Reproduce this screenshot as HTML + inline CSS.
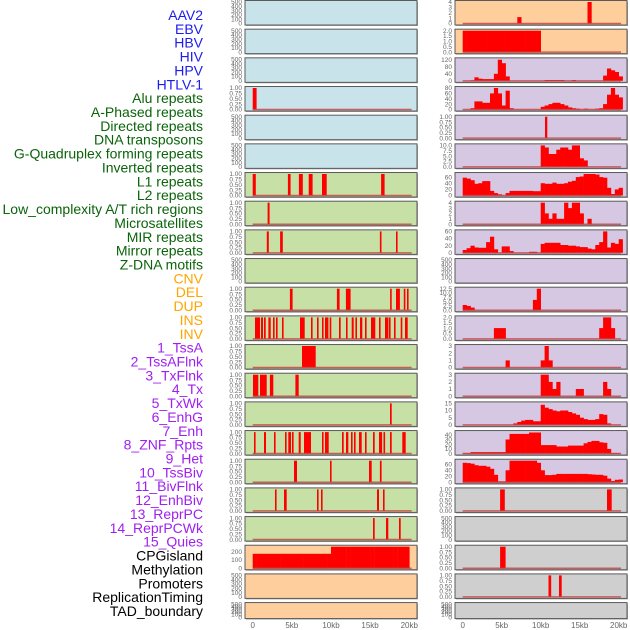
<!DOCTYPE html>
<html><head><meta charset="utf-8">
<style>
html,body{margin:0;padding:0;background:#fff;}
svg{display:block;}
text{font-family:"Liberation Sans",sans-serif;}
</style></head>
<body>
<svg id="chart" width="630" height="630" viewBox="0 0 630 630" xmlns="http://www.w3.org/2000/svg"></svg>
<script>
// ---- labels ----
const trackLabels = ["AAV2","EBV","HBV","HIV","HPV","HTLV-1","Alu repeats","A-Phased repeats","Directed repeats","DNA transposons","G-Quadruplex forming repeats","Inverted repeats","L1 repeats","L2 repeats","Low_complexity A/T rich regions","Microsatellites","MIR repeats","Mirror repeats","Z-DNA motifs","CNV","DEL","DUP","INS","INV","1_TssA","2_TssAFlnk","3_TxFlnk","4_Tx","5_TxWk","6_EnhG","7_Enh","8_ZNF_Rpts","9_Het","10_TssBiv","11_BivFlnk","12_EnhBiv","13_ReprPC","14_ReprPCWk","15_Quies","CPGisland","Methylation","Promoters","ReplicationTiming","TAD_boundary"];
const labelGroups = [6,13,5,15,5];
const groupColors = ["#1c1cf0","#0a640a","#ffa500","#a020f0","#000000"];
const xTickLabels = ["0","5kb","10kb","15kb","20kb"];
const xTickValues = [0,5,10,15,20];

// ---- left column data (kb intervals, 0..1 bars) ----
const L3 = [[0,0.5]];
const L6 = [[0,0.4],[4.5,4.85],[5.9,6.4],[7.15,7.65],[8.85,9.45],[16.4,16.85]];
const L7 = [[1.9,2.15]];
const L8 = [[1.8,2.05],[3.5,3.85],[16.25,16.45],[18.3,18.5]];
const L10 = [[4.75,5.1],[10.75,11.1],[11.9,12.5],[17.55,17.75],[18.3,18.8],[19.3,19.5],[19.7,19.9]];
const L11 = [[0.29,0.93],[1.06,1.32],[1.44,1.66],[2.0,2.29],[2.59,2.8],[2.98,3.19],[3.74,3.95],[6.04,6.64],[7.45,7.66],[8.21,8.42],[8.85,9.06],[9.23,9.66],[9.83,10.04],[11.02,11.24],[11.92,12.13],[12.64,12.9],[13.11,13.32],[13.7,14.0],[14.34,14.55],[15.11,15.66],[16.13,16.34],[16.9,17.32],[17.4,17.62],[18.05,18.26],[18.9,19.11],[19.45,19.79]];
const L12 = [[6.3,8.05]];
const L13 = [[0.04,0.72],[0.93,1.78],[2.2,2.63],[5.45,5.87]];
const L14 = [[17.53,17.75]];
const L15 = [[0.17,0.38],[1.44,1.7],[2.72,2.93],[4.13,4.34],[4.55,4.89],[5.02,5.23],[5.87,6.13],[6.55,7.45],[8.85,9.06],[9.23,9.7],[11.4,11.62],[11.92,12.21],[12.55,12.76],[12.94,13.15],[13.57,13.92],[14.34,14.55],[15.36,15.58],[16.13,16.52],[16.7,16.9],[17.53,17.75],[19.11,19.54]];
const L16 = [[5.28,5.66],[9.87,10.08],[14.85,15.19],[16.25,16.47]];
const L17 = [[2.85,3.06],[4.0,4.34],[8.21,8.42],[8.72,8.93],[15.88,16.13],[16.64,16.85]];
const L18 = [[15.36,15.58],[17.02,17.32],[18.68,18.9]];
// area (values per 0.5kb bin)
const L19 = [175,175,175,175,175,175,175,175,175,175,175,175,175,175,175,175,175,175,175,175,260,260,260,260,260,260,260,260,260,260,260,260,260,260,260,260,260,260,260,260,0];

// ---- right column data ----
const R0 = [0,0,0,0,0,0,0,0,0,0,0,0,0,0,1.2,0,0,0,0,0,0,0,0,0,0,0,0,0,0,0,0,0,4,0,0,0,0,0,0,0,0];
const R1 = [2,2,2,2,2,2,2,2,2,2,2,2,2,2,2,2,2,2,2,2,0,0,0,0,0,0,0,0,0,0,0,0,0,0,0,0,0,0,0,0,0];
const R2 = [0,0,3,20,12,10,10,10,40,120,100,25,0,0,0,0,0,0,0,0,0,5,5,5,5,5,0,0,5,0,0,0,0,0,0,0,30,70,60,50,25];
const R3 = [0,0,5,30,30,25,25,60,80,60,15,70,5,0,0,0,0,0,0,0,10,15,20,25,25,20,15,8,5,3,0,3,0,0,3,5,20,55,80,55,45];
const R4 = [[10.55,10.85]];
const R5 = [0,0,0,0,0,0,0,0,0,0,0,0,0,0,0,0,0,0,0,0,10,9,6,6,8,9,9,8,10,10,4,3,0,0,0,0,0,0,0,0,0];
const R6 = [58,55,50,38,40,47,47,15,8,4,0,8,15,15,15,15,15,15,14,14,40,38,38,42,38,38,40,45,48,60,62,70,70,70,68,60,58,25,5,20,25];
const R7 = [0,0,0,0,0,0,0,0,0,0,0,0,0,0,0,0,0,0,0,0,4,2,1,2,1,1,4,3,4,4,2,0,1,0,0,0,0,0,0,0,0];
const R8 = [8,13,20,15,14,14,30,45,10,0,18,18,5,0,0,0,0,3,3,0,25,28,28,28,28,22,22,20,20,18,16,16,12,10,22,30,60,15,28,25,38];
const R10 = [3,2.5,1.5,0,0,0,0,0,0,0,0,0,0,0,0,0,0,0,6,12.5,0,0,0,0,0,0,0,0,0,0,0,0,0,0,0,0,0,0,0,0,0];
const R11 = [0,0,0,0,0,0,0,0,1,1,1,0,0,0,0,0,0,0,0,0,0,0,0,0,0,0,0,0,0,0,0,0,0,0,0,1,2,2,1,0,0];
const R12 = [0,0,0,0,0,0,0,0,0,0,0,1,0,0,0,0,0,0,0,0,1,3,1,0,0,0,0,0,0,0,0,0,0,0,0,0,0,0,0,0,0];
const R13 = [0,0,0,0,0,0,0,0,0,0,0,0,0,0,0,0,0,0,0,0,3,3,2,1,2,0,0,0,0,1,1,0,0,0,0,0,2,1,0,0,0];
const R14 = [0,0,0,0,0,0,0,0,0,0,0,0,0,1,2,3,3.5,3.5,2.5,2.5,14,12,11,10,9.5,10,10,9,8,7,5,4,3.5,3.5,4,7.5,7,1,0,0,0];
const R15 = [1,1,3,3,3,3,3,3,3,3,3,30,42,42,42,42,42,45,45,45,18,18,18,18,15,15,15,17,17,17,17,22,25,27,27,24,23,10,1,1,0];
const R16 = [65,64,62,57,55,55,52,45,25,3,3,40,72,72,72,72,72,72,72,65,40,24,24,25,28,28,28,28,28,28,28,28,27,26,25,25,22,12,4,8,9];
const R17 = [[4.8,5.4],[18.5,19.1]];
const R19 = [[4.8,5.5]];
const R20 = [[11.0,11.35],[12.35,12.7]];

// ---- tick sets ----
const T_EMPTY = [0,100,200,300,400,500];
const T_UNIT = ["0.00","0.25","0.50","0.75","1.00"];

const BLUE="#c8e3ea", GREEN="#c6e0a5", PEACH="#fecf9d", LAV="#d6c7e2", GRAY="#cfcfcf";
const leftPanels = [
 {bg:BLUE,type:"empty"},{bg:BLUE,type:"empty"},{bg:BLUE,type:"empty"},
 {bg:BLUE,type:"bars",d:L3},{bg:BLUE,type:"empty"},{bg:BLUE,type:"empty"},
 {bg:GREEN,type:"bars",d:L6},{bg:GREEN,type:"bars",d:L7},{bg:GREEN,type:"bars",d:L8},
 {bg:GREEN,type:"empty"},{bg:GREEN,type:"bars",d:L10},{bg:GREEN,type:"bars",d:L11},
 {bg:GREEN,type:"bars",d:L12},{bg:GREEN,type:"bars",d:L13},{bg:GREEN,type:"bars",d:L14},
 {bg:GREEN,type:"bars",d:L15},{bg:GREEN,type:"bars",d:L16},{bg:GREEN,type:"bars",d:L17},
 {bg:GREEN,type:"bars",d:L18},{bg:PEACH,type:"area",d:L19,max:260,ticks:["0","100","200"],tv:[0,100,200]},
 {bg:PEACH,type:"empty"},{bg:PEACH,type:"empty"}
];
const rightPanels = [
 {bg:PEACH,type:"area",d:R0,max:4,ticks:["0","1","2","3","4"],tv:[0,1,2,3,4]},
 {bg:PEACH,type:"area",d:R1,max:2,ticks:["0.0","0.5","1.0","1.5","2.0"],tv:[0,0.5,1,1.5,2]},
 {bg:LAV,type:"area",d:R2,max:122,ticks:["0","40","80","120"],tv:[0,40,80,120]},
 {bg:LAV,type:"area",d:R3,max:80,ticks:["0","20","40","60","80"],tv:[0,20,40,60,80]},
 {bg:LAV,type:"bars",d:R4},
 {bg:LAV,type:"area",d:R5,max:10,ticks:["0.0","2.5","5.0","7.5","10.0"],tv:[0,2.5,5,7.5,10]},
 {bg:LAV,type:"area",d:R6,max:70,ticks:["0","20","40","60"],tv:[0,20,40,60]},
 {bg:LAV,type:"area",d:R7,max:4,ticks:["0","1","2","3","4"],tv:[0,1,2,3,4]},
 {bg:LAV,type:"area",d:R8,max:60,ticks:["0","20","40","60"],tv:[0,20,40,60]},
 {bg:LAV,type:"empty"},
 {bg:LAV,type:"area",d:R10,max:12.5,ticks:["0.0","2.5","5.0","7.5","10.0","12.5"],tv:[0,2.5,5,7.5,10,12.5]},
 {bg:LAV,type:"area",d:R11,max:2,ticks:["0.0","0.5","1.0","1.5","2.0"],tv:[0,0.5,1,1.5,2]},
 {bg:LAV,type:"area",d:R12,max:3,ticks:["0","1","2","3"],tv:[0,1,2,3]},
 {bg:LAV,type:"area",d:R13,max:3,ticks:["0","1","2","3"],tv:[0,1,2,3]},
 {bg:LAV,type:"area",d:R14,max:15,ticks:["0","5","10","15"],tv:[0,5,10,15]},
 {bg:LAV,type:"area",d:R15,max:46,ticks:["0","10","20","30","40"],tv:[0,10,20,30,40]},
 {bg:LAV,type:"area",d:R16,max:72,ticks:["0","20","40","60"],tv:[0,20,40,60]},
 {bg:GRAY,type:"bars",d:R17},{bg:GRAY,type:"empty"},
 {bg:GRAY,type:"bars",d:R19},{bg:GRAY,type:"bars",d:R20},{bg:GRAY,type:"empty"}
];

const NS="http://www.w3.org/2000/svg";
const svg=document.getElementById("chart");
function mk(tag,attrs,parent){const e=document.createElementNS(NS,tag);for(const k in attrs)e.setAttribute(k,attrs[k]);(parent||svg).appendChild(e);return e;}

// labels
let li=0;
labelGroups.forEach((n,g)=>{for(let k=0;k<n;k++){const t=mk("text",{x:203,y:(15+13.86*li+5).toFixed(1),"text-anchor":"end","font-size":"14",fill:groupColors[g]});


t.textContent=trackLabels[li];li++;}});

function rowGeom(i){const top=0.5+28.67*i;const h=(i===21)?16:24.5;return {top,h};}

function drawColumn(panels,px,pw,x0,kbpx,colName){
  const xs=v=>x0+v*kbpx;
  panels.forEach((p,i)=>{
    const {top,h}=rowGeom(i);
    const bot=top+h;
    const g=mk("g",{});
    
    
    mk("rect",{x:px+1,y:top+1,width:pw,height:h,fill:"#aaa"},g);
    const bg=mk("rect",{x:px,y:top,width:pw,height:h,fill:p.bg,stroke:"#5a5a5a","stroke-width":1},g);
    
    
    const ys=(v,max)=>bot-1.5-(v/max)*(h-3);
    let ticks,tv,max;
    if(p.type==="empty"){ticks=T_EMPTY.map(String);tv=T_EMPTY;max=500;}
    else if(p.type==="bars"){ticks=T_UNIT;tv=[0,0.25,0.5,0.75,1];max=1;}
    else {ticks=p.ticks;tv=p.tv;max=p.max;}
    tv.forEach((v,k)=>{const t=mk("text",{x:px-3,y:(ys(v,max)+2.2).toFixed(1),"text-anchor":"end","font-size":"6.5",fill:"#666"},g);
      
      
      t.textContent=ticks[k];});
    if(p.type==="empty")return;
    if(p.type==="bars"){
      p.d.forEach(([s,e])=>{const r=mk("rect",{x:xs(s).toFixed(1),y:ys(1,1).toFixed(1),width:Math.max(1.5,xs(e)-xs(s)).toFixed(1),height:(ys(0,1)-ys(1,1)).toFixed(1),fill:"#ff0000"},g);
        
        });
    } else {
      p.d.forEach((v,k)=>{if(v<=0)return;const vv=Math.min(v,max*1.04);const yt=Math.max(top+0.5,ys(vv,max));
        const r=mk("rect",{x:xs(k*0.5).toFixed(1),y:yt.toFixed(1),width:(kbpx*0.5+0.3).toFixed(1),height:(ys(0,max)-yt).toFixed(1),fill:"#ff0000"},g);
        
        });
    }
    const bl=mk("line",{x1:xs(0),x2:xs(20.3),y1:bot-1.5,y2:bot-1.5,stroke:"#c84040","stroke-width":1.5,opacity:0.8},g);
    
    
  });
  xTickValues.forEach((v,k)=>{const t=mk("text",{x:xs(v).toFixed(1),y:628,"text-anchor":"middle","font-size":"8",fill:"#666"});
    
    
    t.textContent=xTickLabels[k];});
}
drawColumn(leftPanels,245,172,252.7,7.83,"left");
drawColumn(rightPanels,455,172,462.7,7.8,"right");
</script>
</body></html>
